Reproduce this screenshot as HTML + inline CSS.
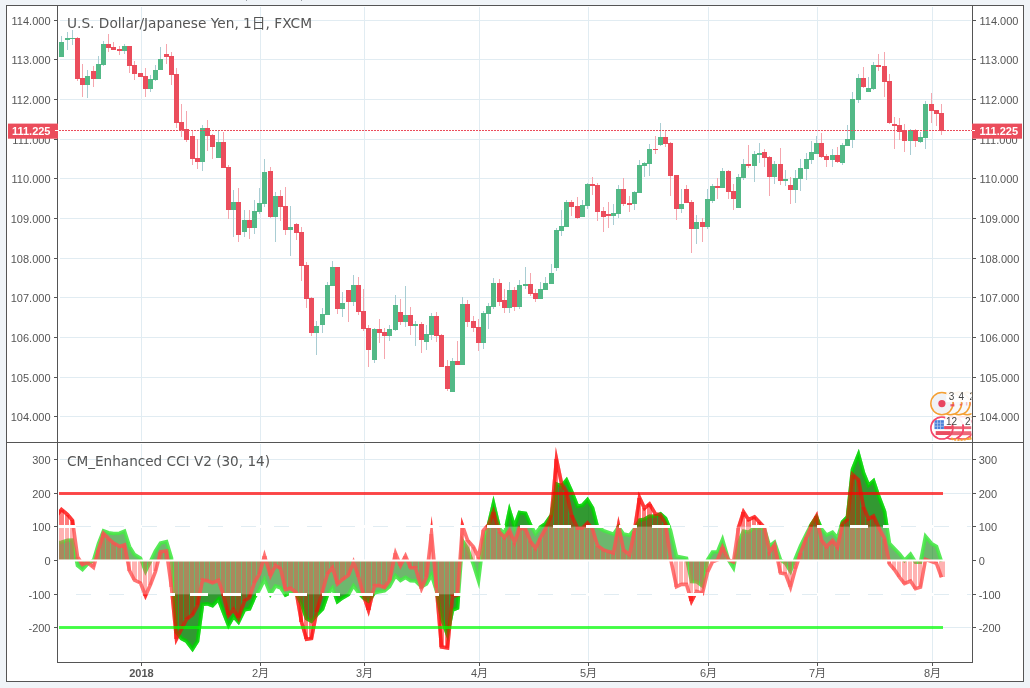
<!DOCTYPE html>
<html lang="ja"><head><meta charset="utf-8"><title>USDJPY chart</title>
<style>html,body{margin:0;padding:0;background:#f0f4f8;overflow:hidden}svg{display:block}</style></head>
<body>
<svg width="1030" height="688" viewBox="0 0 1030 688" shape-rendering="crispEdges">
<rect x="0" y="0" width="1030" height="688" fill="#f0f4f8"/>
<rect x="6" y="5" width="1018" height="677" fill="#ffffff"/>
<rect x="245.6" y="0" width="1.2" height="1" fill="#9aa0a6"/><rect x="301" y="0" width="1" height="1.3" fill="#9aa0a6"/>
<g fill="#e1ecf2"><rect x="141" y="7" width="1" height="434" /><rect x="141" y="444" width="1" height="217" /><rect x="260" y="7" width="1" height="434" /><rect x="260" y="444" width="1" height="217" /><rect x="364" y="7" width="1" height="434" /><rect x="364" y="444" width="1" height="217" /><rect x="479" y="7" width="1" height="434" /><rect x="479" y="444" width="1" height="217" /><rect x="588" y="7" width="1" height="434" /><rect x="588" y="444" width="1" height="217" /><rect x="708" y="7" width="1" height="434" /><rect x="708" y="444" width="1" height="217" /><rect x="817" y="7" width="1" height="434" /><rect x="817" y="444" width="1" height="217" /><rect x="932" y="7" width="1" height="434" /><rect x="932" y="444" width="1" height="217" /><rect x="60" y="20" width="911" height="1"/><rect x="60" y="59" width="911" height="1"/><rect x="60" y="99" width="911" height="1"/><rect x="60" y="139" width="911" height="1"/><rect x="60" y="178" width="911" height="1"/><rect x="60" y="218" width="911" height="1"/><rect x="60" y="258" width="911" height="1"/><rect x="60" y="297" width="911" height="1"/><rect x="60" y="337" width="911" height="1"/><rect x="60" y="377" width="911" height="1"/><rect x="60" y="416" width="911" height="1"/><rect x="60" y="459" width="911" height="1"/><rect x="60" y="493" width="911" height="1"/><rect x="60" y="526" width="911" height="1"/><rect x="60" y="560" width="911" height="1"/><rect x="60" y="594" width="911" height="1"/><rect x="60" y="627" width="911" height="1"/></g>
<g><rect x="61" y="36" width="1" height="6" fill="#a9cdd3"/><rect x="67" y="32" width="1" height="6" fill="#a9cdd3"/><rect x="67" y="40" width="1" height="10" fill="#a9cdd3"/><rect x="72" y="30" width="1" height="8" fill="#a9cdd3"/><rect x="72" y="39" width="1" height="6" fill="#a9cdd3"/><rect x="77" y="37" width="1" height="1" fill="#f5a6ae"/><rect x="77" y="79" width="1" height="2" fill="#f5a6ae"/><rect x="82" y="64" width="1" height="14" fill="#f5a6ae"/><rect x="82" y="85" width="1" height="12" fill="#f5a6ae"/><rect x="87" y="70" width="1" height="6" fill="#a9cdd3"/><rect x="87" y="85" width="1" height="13" fill="#a9cdd3"/><rect x="93" y="66" width="1" height="5" fill="#f5a6ae"/><rect x="93" y="79" width="1" height="8" fill="#f5a6ae"/><rect x="98" y="56" width="1" height="8" fill="#a9cdd3"/><rect x="103" y="41" width="1" height="3" fill="#a9cdd3"/><rect x="103" y="65" width="1" height="1" fill="#a9cdd3"/><rect x="108" y="34" width="1" height="10" fill="#f5a6ae"/><rect x="108" y="48" width="1" height="4" fill="#f5a6ae"/><rect x="113" y="42" width="1" height="5" fill="#f5a6ae"/><rect x="119" y="46" width="1" height="3" fill="#f5a6ae"/><rect x="119" y="51" width="1" height="4" fill="#f5a6ae"/><rect x="124" y="44" width="1" height="2" fill="#a9cdd3"/><rect x="124" y="51" width="1" height="3" fill="#a9cdd3"/><rect x="129" y="66" width="1" height="7" fill="#f5a6ae"/><rect x="134" y="61" width="1" height="4" fill="#f5a6ae"/><rect x="134" y="74" width="1" height="6" fill="#f5a6ae"/><rect x="145" y="68" width="1" height="8" fill="#f5a6ae"/><rect x="145" y="89" width="1" height="8" fill="#f5a6ae"/><rect x="150" y="75" width="1" height="4" fill="#a9cdd3"/><rect x="150" y="89" width="1" height="3" fill="#a9cdd3"/><rect x="155" y="65" width="1" height="5" fill="#a9cdd3"/><rect x="155" y="80" width="1" height="1" fill="#a9cdd3"/><rect x="160" y="47" width="1" height="12" fill="#a9cdd3"/><rect x="166" y="44" width="1" height="10" fill="#f5a6ae"/><rect x="166" y="57" width="1" height="7" fill="#f5a6ae"/><rect x="171" y="52" width="1" height="4" fill="#f5a6ae"/><rect x="171" y="75" width="1" height="10" fill="#f5a6ae"/><rect x="176" y="68" width="1" height="6" fill="#f5a6ae"/><rect x="176" y="123" width="1" height="5" fill="#f5a6ae"/><rect x="181" y="104" width="1" height="18" fill="#f5a6ae"/><rect x="181" y="130" width="1" height="7" fill="#f5a6ae"/><rect x="186" y="111" width="1" height="18" fill="#f5a6ae"/><rect x="186" y="140" width="1" height="2" fill="#f5a6ae"/><rect x="192" y="131" width="1" height="5" fill="#f5a6ae"/><rect x="192" y="159" width="1" height="6" fill="#f5a6ae"/><rect x="197" y="139" width="1" height="19" fill="#f5a6ae"/><rect x="197" y="162" width="1" height="7" fill="#f5a6ae"/><rect x="202" y="125" width="1" height="3" fill="#a9cdd3"/><rect x="202" y="162" width="1" height="9" fill="#a9cdd3"/><rect x="207" y="120" width="1" height="8" fill="#f5a6ae"/><rect x="207" y="136" width="1" height="15" fill="#f5a6ae"/><rect x="212" y="134" width="1" height="1" fill="#f5a6ae"/><rect x="212" y="147" width="1" height="12" fill="#f5a6ae"/><rect x="218" y="131" width="1" height="11" fill="#a9cdd3"/><rect x="223" y="132" width="1" height="10" fill="#f5a6ae"/><rect x="228" y="165" width="1" height="2" fill="#f5a6ae"/><rect x="228" y="210" width="1" height="9" fill="#f5a6ae"/><rect x="233" y="190" width="1" height="12" fill="#a9cdd3"/><rect x="233" y="210" width="1" height="27" fill="#a9cdd3"/><rect x="238" y="188" width="1" height="14" fill="#f5a6ae"/><rect x="238" y="235" width="1" height="7" fill="#f5a6ae"/><rect x="244" y="210" width="1" height="10" fill="#a9cdd3"/><rect x="244" y="232" width="1" height="5" fill="#a9cdd3"/><rect x="249" y="210" width="1" height="10" fill="#f5a6ae"/><rect x="249" y="228" width="1" height="11" fill="#f5a6ae"/><rect x="254" y="200" width="1" height="11" fill="#a9cdd3"/><rect x="254" y="228" width="1" height="6" fill="#a9cdd3"/><rect x="259" y="188" width="1" height="15" fill="#a9cdd3"/><rect x="259" y="212" width="1" height="2" fill="#a9cdd3"/><rect x="264" y="159" width="1" height="13" fill="#a9cdd3"/><rect x="264" y="204" width="1" height="3" fill="#a9cdd3"/><rect x="270" y="167" width="1" height="4" fill="#f5a6ae"/><rect x="270" y="217" width="1" height="1" fill="#f5a6ae"/><rect x="275" y="192" width="1" height="4" fill="#a9cdd3"/><rect x="275" y="217" width="1" height="25" fill="#a9cdd3"/><rect x="280" y="190" width="1" height="6" fill="#f5a6ae"/><rect x="280" y="207" width="1" height="14" fill="#f5a6ae"/><rect x="285" y="187" width="1" height="19" fill="#f5a6ae"/><rect x="285" y="230" width="1" height="5" fill="#f5a6ae"/><rect x="290" y="206" width="1" height="21" fill="#a9cdd3"/><rect x="290" y="230" width="1" height="26" fill="#a9cdd3"/><rect x="296" y="223" width="1" height="1" fill="#f5a6ae"/><rect x="296" y="233" width="1" height="7" fill="#f5a6ae"/><rect x="301" y="227" width="1" height="5" fill="#f5a6ae"/><rect x="301" y="266" width="1" height="15" fill="#f5a6ae"/><rect x="306" y="262" width="1" height="3" fill="#f5a6ae"/><rect x="306" y="299" width="1" height="9" fill="#f5a6ae"/><rect x="311" y="297" width="1" height="1" fill="#f5a6ae"/><rect x="311" y="333" width="1" height="3" fill="#f5a6ae"/><rect x="316" y="321" width="1" height="5" fill="#a9cdd3"/><rect x="316" y="333" width="1" height="22" fill="#a9cdd3"/><rect x="322" y="308" width="1" height="6" fill="#a9cdd3"/><rect x="322" y="325" width="1" height="8" fill="#a9cdd3"/><rect x="327" y="282" width="1" height="3" fill="#a9cdd3"/><rect x="332" y="261" width="1" height="6" fill="#a9cdd3"/><rect x="337" y="309" width="1" height="5" fill="#f5a6ae"/><rect x="342" y="292" width="1" height="11" fill="#a9cdd3"/><rect x="342" y="309" width="1" height="8" fill="#a9cdd3"/><rect x="348" y="302" width="1" height="20" fill="#f5a6ae"/><rect x="353" y="275" width="1" height="10" fill="#a9cdd3"/><rect x="353" y="302" width="1" height="4" fill="#a9cdd3"/><rect x="358" y="277" width="1" height="8" fill="#f5a6ae"/><rect x="358" y="312" width="1" height="3" fill="#f5a6ae"/><rect x="363" y="289" width="1" height="22" fill="#f5a6ae"/><rect x="363" y="329" width="1" height="2" fill="#f5a6ae"/><rect x="368" y="325" width="1" height="3" fill="#f5a6ae"/><rect x="368" y="350" width="1" height="17" fill="#f5a6ae"/><rect x="374" y="328" width="1" height="1" fill="#a9cdd3"/><rect x="374" y="360" width="1" height="3" fill="#a9cdd3"/><rect x="379" y="319" width="1" height="10" fill="#f5a6ae"/><rect x="379" y="333" width="1" height="10" fill="#f5a6ae"/><rect x="384" y="328" width="1" height="4" fill="#f5a6ae"/><rect x="384" y="336" width="1" height="23" fill="#f5a6ae"/><rect x="389" y="325" width="1" height="4" fill="#a9cdd3"/><rect x="389" y="336" width="1" height="5" fill="#a9cdd3"/><rect x="395" y="295" width="1" height="10" fill="#a9cdd3"/><rect x="395" y="330" width="1" height="1" fill="#a9cdd3"/><rect x="400" y="299" width="1" height="13" fill="#f5a6ae"/><rect x="400" y="322" width="1" height="3" fill="#f5a6ae"/><rect x="405" y="286" width="1" height="29" fill="#a9cdd3"/><rect x="405" y="322" width="1" height="5" fill="#a9cdd3"/><rect x="410" y="307" width="1" height="8" fill="#f5a6ae"/><rect x="410" y="326" width="1" height="9" fill="#f5a6ae"/><rect x="415" y="321" width="1" height="3" fill="#a9cdd3"/><rect x="415" y="326" width="1" height="20" fill="#a9cdd3"/><rect x="421" y="322" width="1" height="2" fill="#f5a6ae"/><rect x="421" y="340" width="1" height="13" fill="#f5a6ae"/><rect x="426" y="325" width="1" height="9" fill="#a9cdd3"/><rect x="426" y="342" width="1" height="8" fill="#a9cdd3"/><rect x="431" y="313" width="1" height="3" fill="#a9cdd3"/><rect x="431" y="335" width="1" height="5" fill="#a9cdd3"/><rect x="436" y="312" width="1" height="4" fill="#f5a6ae"/><rect x="436" y="336" width="1" height="6" fill="#f5a6ae"/><rect x="441" y="334" width="1" height="1" fill="#f5a6ae"/><rect x="447" y="360" width="1" height="6" fill="#f5a6ae"/><rect x="447" y="389" width="1" height="2" fill="#f5a6ae"/><rect x="452" y="358" width="1" height="3" fill="#a9cdd3"/><rect x="457" y="341" width="1" height="20" fill="#f5a6ae"/><rect x="462" y="297" width="1" height="7" fill="#a9cdd3"/><rect x="467" y="300" width="1" height="4" fill="#f5a6ae"/><rect x="467" y="322" width="1" height="5" fill="#f5a6ae"/><rect x="473" y="316" width="1" height="5" fill="#f5a6ae"/><rect x="473" y="328" width="1" height="4" fill="#f5a6ae"/><rect x="478" y="319" width="1" height="8" fill="#f5a6ae"/><rect x="478" y="343" width="1" height="8" fill="#f5a6ae"/><rect x="483" y="311" width="1" height="2" fill="#a9cdd3"/><rect x="483" y="343" width="1" height="6" fill="#a9cdd3"/><rect x="488" y="303" width="1" height="3" fill="#a9cdd3"/><rect x="488" y="314" width="1" height="15" fill="#a9cdd3"/><rect x="493" y="278" width="1" height="5" fill="#a9cdd3"/><rect x="493" y="307" width="1" height="2" fill="#a9cdd3"/><rect x="499" y="279" width="1" height="4" fill="#f5a6ae"/><rect x="499" y="302" width="1" height="4" fill="#f5a6ae"/><rect x="504" y="289" width="1" height="11" fill="#f5a6ae"/><rect x="504" y="308" width="1" height="5" fill="#f5a6ae"/><rect x="509" y="282" width="1" height="8" fill="#a9cdd3"/><rect x="509" y="308" width="1" height="5" fill="#a9cdd3"/><rect x="514" y="287" width="1" height="3" fill="#f5a6ae"/><rect x="514" y="307" width="1" height="4" fill="#f5a6ae"/><rect x="519" y="280" width="1" height="5" fill="#a9cdd3"/><rect x="519" y="307" width="1" height="2" fill="#a9cdd3"/><rect x="525" y="267" width="1" height="17" fill="#a9cdd3"/><rect x="525" y="286" width="1" height="3" fill="#a9cdd3"/><rect x="530" y="273" width="1" height="11" fill="#f5a6ae"/><rect x="530" y="294" width="1" height="2" fill="#f5a6ae"/><rect x="535" y="289" width="1" height="4" fill="#f5a6ae"/><rect x="535" y="299" width="1" height="3" fill="#f5a6ae"/><rect x="540" y="282" width="1" height="7" fill="#a9cdd3"/><rect x="545" y="277" width="1" height="6" fill="#a9cdd3"/><rect x="551" y="264" width="1" height="9" fill="#a9cdd3"/><rect x="556" y="228" width="1" height="2" fill="#a9cdd3"/><rect x="556" y="268" width="1" height="3" fill="#a9cdd3"/><rect x="561" y="210" width="1" height="16" fill="#a9cdd3"/><rect x="561" y="231" width="1" height="5" fill="#a9cdd3"/><rect x="566" y="200" width="1" height="2" fill="#a9cdd3"/><rect x="571" y="200" width="1" height="2" fill="#f5a6ae"/><rect x="571" y="207" width="1" height="9" fill="#f5a6ae"/><rect x="577" y="197" width="1" height="9" fill="#f5a6ae"/><rect x="577" y="218" width="1" height="1" fill="#f5a6ae"/><rect x="582" y="200" width="1" height="5" fill="#a9cdd3"/><rect x="587" y="183" width="1" height="1" fill="#a9cdd3"/><rect x="587" y="206" width="1" height="3" fill="#a9cdd3"/><rect x="592" y="177" width="1" height="7" fill="#f5a6ae"/><rect x="592" y="186" width="1" height="9" fill="#f5a6ae"/><rect x="597" y="183" width="1" height="2" fill="#f5a6ae"/><rect x="597" y="212" width="1" height="9" fill="#f5a6ae"/><rect x="603" y="207" width="1" height="4" fill="#f5a6ae"/><rect x="603" y="217" width="1" height="15" fill="#f5a6ae"/><rect x="608" y="202" width="1" height="12" fill="#f5a6ae"/><rect x="608" y="216" width="1" height="12" fill="#f5a6ae"/><rect x="613" y="204" width="1" height="9" fill="#a9cdd3"/><rect x="613" y="216" width="1" height="9" fill="#a9cdd3"/><rect x="618" y="185" width="1" height="4" fill="#a9cdd3"/><rect x="618" y="214" width="1" height="4" fill="#a9cdd3"/><rect x="623" y="178" width="1" height="11" fill="#f5a6ae"/><rect x="623" y="204" width="1" height="2" fill="#f5a6ae"/><rect x="629" y="196" width="1" height="7" fill="#f5a6ae"/><rect x="629" y="205" width="1" height="7" fill="#f5a6ae"/><rect x="634" y="191" width="1" height="1" fill="#a9cdd3"/><rect x="634" y="204" width="1" height="6" fill="#a9cdd3"/><rect x="639" y="160" width="1" height="5" fill="#a9cdd3"/><rect x="644" y="162" width="1" height="1" fill="#a9cdd3"/><rect x="644" y="166" width="1" height="11" fill="#a9cdd3"/><rect x="649" y="144" width="1" height="5" fill="#a9cdd3"/><rect x="649" y="164" width="1" height="12" fill="#a9cdd3"/><rect x="655" y="136" width="1" height="13" fill="#f5a6ae"/><rect x="655" y="150" width="1" height="4" fill="#f5a6ae"/><rect x="660" y="123" width="1" height="14" fill="#a9cdd3"/><rect x="660" y="145" width="1" height="1" fill="#a9cdd3"/><rect x="665" y="131" width="1" height="6" fill="#f5a6ae"/><rect x="665" y="144" width="1" height="3" fill="#f5a6ae"/><rect x="670" y="142" width="1" height="1" fill="#f5a6ae"/><rect x="670" y="176" width="1" height="20" fill="#f5a6ae"/><rect x="676" y="209" width="1" height="11" fill="#f5a6ae"/><rect x="681" y="189" width="1" height="15" fill="#a9cdd3"/><rect x="681" y="209" width="1" height="4" fill="#a9cdd3"/><rect x="686" y="185" width="1" height="4" fill="#f5a6ae"/><rect x="691" y="200" width="1" height="2" fill="#f5a6ae"/><rect x="691" y="229" width="1" height="24" fill="#f5a6ae"/><rect x="696" y="215" width="1" height="7" fill="#a9cdd3"/><rect x="696" y="229" width="1" height="15" fill="#a9cdd3"/><rect x="702" y="218" width="1" height="4" fill="#f5a6ae"/><rect x="702" y="227" width="1" height="15" fill="#f5a6ae"/><rect x="707" y="189" width="1" height="10" fill="#a9cdd3"/><rect x="707" y="227" width="1" height="2" fill="#a9cdd3"/><rect x="712" y="184" width="1" height="2" fill="#a9cdd3"/><rect x="712" y="201" width="1" height="2" fill="#a9cdd3"/><rect x="717" y="178" width="1" height="8" fill="#f5a6ae"/><rect x="717" y="188" width="1" height="11" fill="#f5a6ae"/><rect x="722" y="168" width="1" height="3" fill="#a9cdd3"/><rect x="728" y="170" width="1" height="1" fill="#f5a6ae"/><rect x="728" y="192" width="1" height="7" fill="#f5a6ae"/><rect x="733" y="184" width="1" height="7" fill="#f5a6ae"/><rect x="733" y="199" width="1" height="11" fill="#f5a6ae"/><rect x="738" y="174" width="1" height="3" fill="#a9cdd3"/><rect x="743" y="159" width="1" height="5" fill="#a9cdd3"/><rect x="743" y="178" width="1" height="2" fill="#a9cdd3"/><rect x="748" y="145" width="1" height="19" fill="#f5a6ae"/><rect x="748" y="166" width="1" height="2" fill="#f5a6ae"/><rect x="754" y="151" width="1" height="3" fill="#a9cdd3"/><rect x="754" y="166" width="1" height="16" fill="#a9cdd3"/><rect x="759" y="143" width="1" height="10" fill="#a9cdd3"/><rect x="759" y="155" width="1" height="8" fill="#a9cdd3"/><rect x="764" y="149" width="1" height="3" fill="#f5a6ae"/><rect x="764" y="158" width="1" height="9" fill="#f5a6ae"/><rect x="769" y="156" width="1" height="1" fill="#f5a6ae"/><rect x="769" y="177" width="1" height="19" fill="#f5a6ae"/><rect x="774" y="161" width="1" height="3" fill="#a9cdd3"/><rect x="774" y="177" width="1" height="7" fill="#a9cdd3"/><rect x="780" y="148" width="1" height="16" fill="#f5a6ae"/><rect x="780" y="181" width="1" height="4" fill="#f5a6ae"/><rect x="785" y="170" width="1" height="9" fill="#a9cdd3"/><rect x="785" y="181" width="1" height="5" fill="#a9cdd3"/><rect x="790" y="177" width="1" height="8" fill="#f5a6ae"/><rect x="790" y="190" width="1" height="14" fill="#f5a6ae"/><rect x="795" y="170" width="1" height="8" fill="#a9cdd3"/><rect x="795" y="190" width="1" height="13" fill="#a9cdd3"/><rect x="800" y="159" width="1" height="9" fill="#a9cdd3"/><rect x="800" y="179" width="1" height="12" fill="#a9cdd3"/><rect x="806" y="153" width="1" height="6" fill="#a9cdd3"/><rect x="806" y="169" width="1" height="11" fill="#a9cdd3"/><rect x="811" y="141" width="1" height="11" fill="#a9cdd3"/><rect x="811" y="160" width="1" height="4" fill="#a9cdd3"/><rect x="816" y="136" width="1" height="7" fill="#a9cdd3"/><rect x="821" y="133" width="1" height="10" fill="#f5a6ae"/><rect x="821" y="157" width="1" height="1" fill="#f5a6ae"/><rect x="826" y="154" width="1" height="2" fill="#f5a6ae"/><rect x="826" y="160" width="1" height="7" fill="#f5a6ae"/><rect x="832" y="149" width="1" height="6" fill="#a9cdd3"/><rect x="832" y="160" width="1" height="7" fill="#a9cdd3"/><rect x="837" y="147" width="1" height="8" fill="#f5a6ae"/><rect x="837" y="162" width="1" height="1" fill="#f5a6ae"/><rect x="842" y="143" width="1" height="2" fill="#a9cdd3"/><rect x="842" y="163" width="1" height="2" fill="#a9cdd3"/><rect x="847" y="125" width="1" height="14" fill="#a9cdd3"/><rect x="852" y="92" width="1" height="7" fill="#a9cdd3"/><rect x="852" y="140" width="1" height="8" fill="#a9cdd3"/><rect x="858" y="74" width="1" height="4" fill="#a9cdd3"/><rect x="858" y="100" width="1" height="3" fill="#a9cdd3"/><rect x="863" y="67" width="1" height="11" fill="#f5a6ae"/><rect x="863" y="87" width="1" height="1" fill="#f5a6ae"/><rect x="868" y="77" width="1" height="11" fill="#a9cdd3"/><rect x="873" y="62" width="1" height="3" fill="#a9cdd3"/><rect x="873" y="89" width="1" height="1" fill="#a9cdd3"/><rect x="878" y="54" width="1" height="11" fill="#f5a6ae"/><rect x="878" y="67" width="1" height="4" fill="#f5a6ae"/><rect x="884" y="52" width="1" height="14" fill="#f5a6ae"/><rect x="884" y="82" width="1" height="15" fill="#f5a6ae"/><rect x="889" y="74" width="1" height="7" fill="#f5a6ae"/><rect x="889" y="123" width="1" height="1" fill="#f5a6ae"/><rect x="894" y="117" width="1" height="7" fill="#f5a6ae"/><rect x="894" y="126" width="1" height="23" fill="#f5a6ae"/><rect x="899" y="118" width="1" height="7" fill="#f5a6ae"/><rect x="899" y="132" width="1" height="8" fill="#f5a6ae"/><rect x="904" y="124" width="1" height="6" fill="#f5a6ae"/><rect x="904" y="141" width="1" height="11" fill="#f5a6ae"/><rect x="910" y="129" width="1" height="1" fill="#a9cdd3"/><rect x="910" y="141" width="1" height="14" fill="#a9cdd3"/><rect x="915" y="129" width="1" height="1" fill="#f5a6ae"/><rect x="915" y="141" width="1" height="6" fill="#f5a6ae"/><rect x="920" y="132" width="1" height="5" fill="#a9cdd3"/><rect x="920" y="142" width="1" height="1" fill="#a9cdd3"/><rect x="925" y="101" width="1" height="3" fill="#a9cdd3"/><rect x="925" y="138" width="1" height="11" fill="#a9cdd3"/><rect x="931" y="93" width="1" height="11" fill="#f5a6ae"/><rect x="931" y="111" width="1" height="12" fill="#f5a6ae"/><rect x="936" y="114" width="1" height="12" fill="#f5a6ae"/><rect x="941" y="104" width="1" height="9" fill="#f5a6ae"/><rect x="941" y="131" width="1" height="4" fill="#f5a6ae"/><rect x="59" y="42" width="5" height="15" fill="#53b987"/><rect x="65" y="38" width="5" height="2" fill="#53b987"/><rect x="70" y="38" width="5" height="1" fill="#53b987"/><rect x="75" y="38" width="5" height="41" fill="#eb4d5c"/><rect x="80" y="78" width="5" height="7" fill="#eb4d5c"/><rect x="85" y="76" width="5" height="9" fill="#53b987"/><rect x="91" y="71" width="5" height="8" fill="#eb4d5c"/><rect x="96" y="64" width="5" height="15" fill="#53b987"/><rect x="101" y="44" width="5" height="21" fill="#53b987"/><rect x="106" y="44" width="5" height="4" fill="#eb4d5c"/><rect x="111" y="47" width="5" height="3" fill="#eb4d5c"/><rect x="117" y="49" width="5" height="2" fill="#eb4d5c"/><rect x="122" y="46" width="5" height="5" fill="#53b987"/><rect x="127" y="46" width="5" height="20" fill="#eb4d5c"/><rect x="132" y="65" width="5" height="9" fill="#eb4d5c"/><rect x="138" y="73" width="5" height="4" fill="#eb4d5c"/><rect x="143" y="76" width="5" height="13" fill="#eb4d5c"/><rect x="148" y="79" width="5" height="10" fill="#53b987"/><rect x="153" y="70" width="5" height="10" fill="#53b987"/><rect x="158" y="59" width="5" height="11" fill="#53b987"/><rect x="164" y="54" width="5" height="3" fill="#eb4d5c"/><rect x="169" y="56" width="5" height="19" fill="#eb4d5c"/><rect x="174" y="74" width="5" height="49" fill="#eb4d5c"/><rect x="179" y="122" width="5" height="8" fill="#eb4d5c"/><rect x="184" y="129" width="5" height="11" fill="#eb4d5c"/><rect x="190" y="136" width="5" height="23" fill="#eb4d5c"/><rect x="195" y="158" width="5" height="4" fill="#eb4d5c"/><rect x="200" y="128" width="5" height="34" fill="#53b987"/><rect x="205" y="128" width="5" height="8" fill="#eb4d5c"/><rect x="210" y="135" width="5" height="12" fill="#eb4d5c"/><rect x="216" y="142" width="5" height="16" fill="#53b987"/><rect x="221" y="142" width="5" height="26" fill="#eb4d5c"/><rect x="226" y="167" width="5" height="43" fill="#eb4d5c"/><rect x="231" y="202" width="5" height="8" fill="#53b987"/><rect x="236" y="202" width="5" height="33" fill="#eb4d5c"/><rect x="242" y="220" width="5" height="12" fill="#53b987"/><rect x="247" y="220" width="5" height="8" fill="#eb4d5c"/><rect x="252" y="211" width="5" height="17" fill="#53b987"/><rect x="257" y="203" width="5" height="9" fill="#53b987"/><rect x="262" y="172" width="5" height="32" fill="#53b987"/><rect x="268" y="171" width="5" height="46" fill="#eb4d5c"/><rect x="273" y="196" width="5" height="21" fill="#53b987"/><rect x="278" y="196" width="5" height="11" fill="#eb4d5c"/><rect x="283" y="206" width="5" height="24" fill="#eb4d5c"/><rect x="288" y="227" width="5" height="3" fill="#53b987"/><rect x="294" y="224" width="5" height="9" fill="#eb4d5c"/><rect x="299" y="232" width="5" height="34" fill="#eb4d5c"/><rect x="304" y="265" width="5" height="34" fill="#eb4d5c"/><rect x="309" y="298" width="5" height="35" fill="#eb4d5c"/><rect x="314" y="326" width="5" height="7" fill="#53b987"/><rect x="320" y="314" width="5" height="11" fill="#53b987"/><rect x="325" y="285" width="5" height="30" fill="#53b987"/><rect x="330" y="267" width="5" height="19" fill="#53b987"/><rect x="335" y="267" width="5" height="42" fill="#eb4d5c"/><rect x="340" y="303" width="5" height="6" fill="#53b987"/><rect x="346" y="290" width="5" height="12" fill="#eb4d5c"/><rect x="351" y="285" width="5" height="17" fill="#53b987"/><rect x="356" y="285" width="5" height="27" fill="#eb4d5c"/><rect x="361" y="311" width="5" height="18" fill="#eb4d5c"/><rect x="366" y="328" width="5" height="22" fill="#eb4d5c"/><rect x="372" y="329" width="5" height="31" fill="#53b987"/><rect x="377" y="329" width="5" height="4" fill="#eb4d5c"/><rect x="382" y="332" width="5" height="4" fill="#eb4d5c"/><rect x="387" y="329" width="5" height="7" fill="#53b987"/><rect x="393" y="305" width="5" height="25" fill="#53b987"/><rect x="398" y="312" width="5" height="10" fill="#eb4d5c"/><rect x="403" y="315" width="5" height="7" fill="#53b987"/><rect x="408" y="315" width="5" height="11" fill="#eb4d5c"/><rect x="413" y="324" width="5" height="2" fill="#53b987"/><rect x="419" y="324" width="5" height="16" fill="#eb4d5c"/><rect x="424" y="334" width="5" height="8" fill="#53b987"/><rect x="429" y="316" width="5" height="19" fill="#53b987"/><rect x="434" y="316" width="5" height="20" fill="#eb4d5c"/><rect x="439" y="335" width="5" height="32" fill="#eb4d5c"/><rect x="445" y="366" width="5" height="23" fill="#eb4d5c"/><rect x="450" y="361" width="5" height="31" fill="#53b987"/><rect x="455" y="361" width="5" height="4" fill="#eb4d5c"/><rect x="460" y="304" width="5" height="61" fill="#53b987"/><rect x="465" y="304" width="5" height="18" fill="#eb4d5c"/><rect x="471" y="321" width="5" height="7" fill="#eb4d5c"/><rect x="476" y="327" width="5" height="16" fill="#eb4d5c"/><rect x="481" y="313" width="5" height="30" fill="#53b987"/><rect x="486" y="306" width="5" height="8" fill="#53b987"/><rect x="491" y="283" width="5" height="24" fill="#53b987"/><rect x="497" y="283" width="5" height="19" fill="#eb4d5c"/><rect x="502" y="300" width="5" height="8" fill="#eb4d5c"/><rect x="507" y="290" width="5" height="18" fill="#53b987"/><rect x="512" y="290" width="5" height="17" fill="#eb4d5c"/><rect x="517" y="285" width="5" height="22" fill="#53b987"/><rect x="523" y="284" width="5" height="2" fill="#53b987"/><rect x="528" y="284" width="5" height="10" fill="#eb4d5c"/><rect x="533" y="293" width="5" height="6" fill="#eb4d5c"/><rect x="538" y="289" width="5" height="10" fill="#53b987"/><rect x="543" y="283" width="5" height="7" fill="#53b987"/><rect x="549" y="273" width="5" height="11" fill="#53b987"/><rect x="554" y="230" width="5" height="38" fill="#53b987"/><rect x="559" y="226" width="5" height="5" fill="#53b987"/><rect x="564" y="202" width="5" height="25" fill="#53b987"/><rect x="569" y="202" width="5" height="5" fill="#eb4d5c"/><rect x="575" y="206" width="5" height="12" fill="#eb4d5c"/><rect x="580" y="205" width="5" height="12" fill="#53b987"/><rect x="585" y="184" width="5" height="22" fill="#53b987"/><rect x="590" y="184" width="5" height="2" fill="#eb4d5c"/><rect x="595" y="185" width="5" height="27" fill="#eb4d5c"/><rect x="601" y="211" width="5" height="6" fill="#eb4d5c"/><rect x="606" y="214" width="5" height="2" fill="#eb4d5c"/><rect x="611" y="213" width="5" height="3" fill="#53b987"/><rect x="616" y="189" width="5" height="25" fill="#53b987"/><rect x="621" y="189" width="5" height="15" fill="#eb4d5c"/><rect x="627" y="203" width="5" height="2" fill="#eb4d5c"/><rect x="632" y="192" width="5" height="12" fill="#53b987"/><rect x="637" y="165" width="5" height="28" fill="#53b987"/><rect x="642" y="163" width="5" height="3" fill="#53b987"/><rect x="647" y="149" width="5" height="15" fill="#53b987"/><rect x="653" y="149" width="5" height="1" fill="#eb4d5c"/><rect x="658" y="137" width="5" height="8" fill="#53b987"/><rect x="663" y="137" width="5" height="7" fill="#eb4d5c"/><rect x="668" y="143" width="5" height="33" fill="#eb4d5c"/><rect x="674" y="175" width="5" height="34" fill="#eb4d5c"/><rect x="679" y="204" width="5" height="5" fill="#53b987"/><rect x="684" y="189" width="5" height="14" fill="#eb4d5c"/><rect x="689" y="202" width="5" height="27" fill="#eb4d5c"/><rect x="694" y="222" width="5" height="7" fill="#53b987"/><rect x="700" y="222" width="5" height="5" fill="#eb4d5c"/><rect x="705" y="199" width="5" height="28" fill="#53b987"/><rect x="710" y="186" width="5" height="15" fill="#53b987"/><rect x="715" y="186" width="5" height="2" fill="#eb4d5c"/><rect x="720" y="171" width="5" height="17" fill="#53b987"/><rect x="726" y="171" width="5" height="21" fill="#eb4d5c"/><rect x="731" y="191" width="5" height="8" fill="#eb4d5c"/><rect x="736" y="177" width="5" height="31" fill="#53b987"/><rect x="741" y="164" width="5" height="14" fill="#53b987"/><rect x="746" y="164" width="5" height="2" fill="#eb4d5c"/><rect x="752" y="154" width="5" height="12" fill="#53b987"/><rect x="757" y="153" width="5" height="2" fill="#53b987"/><rect x="762" y="152" width="5" height="6" fill="#eb4d5c"/><rect x="767" y="157" width="5" height="20" fill="#eb4d5c"/><rect x="772" y="164" width="5" height="13" fill="#53b987"/><rect x="778" y="164" width="5" height="17" fill="#eb4d5c"/><rect x="783" y="179" width="5" height="2" fill="#53b987"/><rect x="788" y="185" width="5" height="5" fill="#eb4d5c"/><rect x="793" y="178" width="5" height="12" fill="#53b987"/><rect x="798" y="168" width="5" height="11" fill="#53b987"/><rect x="804" y="159" width="5" height="10" fill="#53b987"/><rect x="809" y="152" width="5" height="8" fill="#53b987"/><rect x="814" y="143" width="5" height="11" fill="#53b987"/><rect x="819" y="143" width="5" height="14" fill="#eb4d5c"/><rect x="824" y="156" width="5" height="4" fill="#eb4d5c"/><rect x="830" y="155" width="5" height="5" fill="#53b987"/><rect x="835" y="155" width="5" height="7" fill="#eb4d5c"/><rect x="840" y="145" width="5" height="18" fill="#53b987"/><rect x="845" y="139" width="5" height="7" fill="#53b987"/><rect x="850" y="99" width="5" height="41" fill="#53b987"/><rect x="856" y="78" width="5" height="22" fill="#53b987"/><rect x="861" y="78" width="5" height="9" fill="#eb4d5c"/><rect x="866" y="88" width="5" height="4" fill="#53b987"/><rect x="871" y="65" width="5" height="24" fill="#53b987"/><rect x="876" y="65" width="5" height="2" fill="#eb4d5c"/><rect x="882" y="66" width="5" height="16" fill="#eb4d5c"/><rect x="887" y="81" width="5" height="42" fill="#eb4d5c"/><rect x="892" y="124" width="5" height="2" fill="#eb4d5c"/><rect x="897" y="125" width="5" height="7" fill="#eb4d5c"/><rect x="902" y="130" width="5" height="11" fill="#eb4d5c"/><rect x="908" y="130" width="5" height="11" fill="#53b987"/><rect x="913" y="130" width="5" height="11" fill="#eb4d5c"/><rect x="918" y="137" width="5" height="5" fill="#53b987"/><rect x="923" y="104" width="5" height="34" fill="#53b987"/><rect x="929" y="104" width="5" height="7" fill="#eb4d5c"/><rect x="934" y="110" width="5" height="4" fill="#eb4d5c"/><rect x="939" y="113" width="5" height="18" fill="#eb4d5c"/></g>
<line x1="59" y1="130.5" x2="972" y2="130.5" stroke="#eb4d5c" stroke-width="1" stroke-dasharray="2 1" shape-rendering="crispEdges"/>
<defs>
<clipPath id="beyond"><rect x="58" y="443" width="914" height="83.5"/><rect x="58" y="594.5" width="914" height="67.5"/></clipPath>
<clipPath id="pane2"><rect x="59" y="443" width="913" height="219"/></clipPath>
<clipPath id="usc"><circle cx="941.9" cy="428" r="10.6"/></clipPath>
<clipPath id="icl"><rect x="925" y="385" width="46.5" height="56"/></clipPath>
</defs>
<g clip-path="url(#pane2)" shape-rendering="auto">
<path d="M56.3,560.5 L56.3,543.0 L61.5,542.2 L67.5,540.3 L72.5,540.2 L77.5,565.5 L82.5,569.6 L87.5,564.1 L93.5,560.4 L98.5,543.7 L103.5,530.9 L108.5,532.8 L113.5,533.5 L119.5,533.2 L124.5,531.1 L129.5,546.6 L134.5,554.6 L140.5,558.2 L145.5,571.3 L150.5,561.2 L155.5,551.0 L160.5,543.0 L166.5,541.7 L171.5,558.2 L176.5,632.4 L181.5,638.5 L186.5,641.1 L192.5,649.0 L197.5,641.1 L202.5,604.4 L207.5,603.8 L212.5,605.6 L218.5,599.3 L223.5,612.3 L228.5,625.3 L233.5,616.4 L238.5,622.0 L244.5,609.7 L249.5,608.8 L254.5,597.4 L259.5,589.6 L264.5,579.4 L270.5,594.1 L275.5,586.0 L280.5,587.8 L285.5,594.9 L290.5,592.6 L296.5,593.9 L301.5,604.4 L306.5,618.4 L311.5,621.1 L316.5,615.1 L322.5,609.0 L327.5,594.6 L332.5,587.9 L337.5,601.6 L342.5,597.9 L348.5,594.4 L353.5,585.7 L358.5,592.6 L363.5,597.9 L368.5,601.2 L374.5,592.6 L379.5,591.8 L384.5,590.9 L389.5,586.5 L395.5,575.7 L400.5,580.5 L405.5,577.5 L410.5,580.8 L415.5,581.0 L421.5,586.7 L426.5,583.9 L431.5,574.8 L436.5,591.0 L441.5,618.0 L447.5,634.8 L452.5,610.0 L457.5,608.0 L462.5,540.6 L467.5,548.3 L473.5,564.6 L478.5,580.8 L483.5,540.1 L488.5,525.0 L493.5,503.4 L499.5,528.4 L504.5,534.1 L509.5,510.5 L514.5,526.7 L519.5,512.4 L525.5,513.3 L530.5,525.0 L535.5,533.7 L540.5,527.1 L545.5,523.6 L551.5,514.9 L556.5,484.0 L561.5,486.2 L566.5,480.1 L571.5,491.3 L577.5,506.2 L582.5,505.3 L587.5,499.8 L592.5,507.9 L597.5,527.1 L603.5,530.6 L608.5,532.4 L613.5,534.2 L618.5,527.0 L623.5,534.1 L629.5,535.3 L634.5,528.9 L639.5,520.1 L644.5,519.3 L649.5,516.2 L655.5,516.3 L660.5,513.9 L665.5,518.4 L670.5,530.2 L676.5,556.4 L681.5,557.2 L686.5,558.2 L691.5,581.4 L696.5,581.6 L702.5,586.0 L707.5,559.9 L712.5,552.0 L717.5,551.8 L722.5,539.4 L728.5,559.9 L733.5,567.9 L738.5,542.4 L743.5,531.1 L748.5,532.3 L754.5,527.6 L759.5,527.6 L764.5,529.3 L769.5,546.1 L774.5,542.2 L780.5,559.9 L785.5,563.4 L790.5,571.4 L795.5,558.2 L800.5,545.9 L806.5,533.7 L811.5,524.1 L816.5,517.1 L821.5,528.9 L826.5,535.1 L832.5,532.3 L837.5,538.0 L842.5,521.9 L847.5,516.7 L852.5,469.5 L858.5,454.4 L863.5,473.0 L868.5,485.3 L873.5,480.8 L878.5,495.7 L884.5,511.4 L889.5,543.5 L894.5,548.7 L899.5,554.0 L904.5,560.4 L910.5,554.2 L915.5,562.1 L920.5,562.1 L925.5,536.3 L931.5,543.5 L936.5,546.4 L941.5,561.6 L941.5,560.5 Z" fill="rgba(0,128,0,0.57)"/><path d="M56.3,543.0 L61.5,542.2 L67.5,540.3 L72.5,540.2 L77.5,565.5 L82.5,569.6 L87.5,564.1 L93.5,560.4 L98.5,543.7 L103.5,530.9 L108.5,532.8 L113.5,533.5 L119.5,533.2 L124.5,531.1 L129.5,546.6 L134.5,554.6 L140.5,558.2 L145.5,571.3 L150.5,561.2 L155.5,551.0 L160.5,543.0 L166.5,541.7 L171.5,558.2 L176.5,632.4 L181.5,638.5 L186.5,641.1 L192.5,649.0 L197.5,641.1 L202.5,604.4 L207.5,603.8 L212.5,605.6 L218.5,599.3 L223.5,612.3 L228.5,625.3 L233.5,616.4 L238.5,622.0 L244.5,609.7 L249.5,608.8 L254.5,597.4 L259.5,589.6 L264.5,579.4 L270.5,594.1 L275.5,586.0 L280.5,587.8 L285.5,594.9 L290.5,592.6 L296.5,593.9 L301.5,604.4 L306.5,618.4 L311.5,621.1 L316.5,615.1 L322.5,609.0 L327.5,594.6 L332.5,587.9 L337.5,601.6 L342.5,597.9 L348.5,594.4 L353.5,585.7 L358.5,592.6 L363.5,597.9 L368.5,601.2 L374.5,592.6 L379.5,591.8 L384.5,590.9 L389.5,586.5 L395.5,575.7 L400.5,580.5 L405.5,577.5 L410.5,580.8 L415.5,581.0 L421.5,586.7 L426.5,583.9 L431.5,574.8 L436.5,591.0 L441.5,618.0 L447.5,634.8 L452.5,610.0 L457.5,608.0 L462.5,540.6 L467.5,548.3 L473.5,564.6 L478.5,580.8 L483.5,540.1 L488.5,525.0 L493.5,503.4 L499.5,528.4 L504.5,534.1 L509.5,510.5 L514.5,526.7 L519.5,512.4 L525.5,513.3 L530.5,525.0 L535.5,533.7 L540.5,527.1 L545.5,523.6 L551.5,514.9 L556.5,484.0 L561.5,486.2 L566.5,480.1 L571.5,491.3 L577.5,506.2 L582.5,505.3 L587.5,499.8 L592.5,507.9 L597.5,527.1 L603.5,530.6 L608.5,532.4 L613.5,534.2 L618.5,527.0 L623.5,534.1 L629.5,535.3 L634.5,528.9 L639.5,520.1 L644.5,519.3 L649.5,516.2 L655.5,516.3 L660.5,513.9 L665.5,518.4 L670.5,530.2 L676.5,556.4 L681.5,557.2 L686.5,558.2 L691.5,581.4 L696.5,581.6 L702.5,586.0 L707.5,559.9 L712.5,552.0 L717.5,551.8 L722.5,539.4 L728.5,559.9 L733.5,567.9 L738.5,542.4 L743.5,531.1 L748.5,532.3 L754.5,527.6 L759.5,527.6 L764.5,529.3 L769.5,546.1 L774.5,542.2 L780.5,559.9 L785.5,563.4 L790.5,571.4 L795.5,558.2 L800.5,545.9 L806.5,533.7 L811.5,524.1 L816.5,517.1 L821.5,528.9 L826.5,535.1 L832.5,532.3 L837.5,538.0 L842.5,521.9 L847.5,516.7 L852.5,469.5 L858.5,454.4 L863.5,473.0 L868.5,485.3 L873.5,480.8 L878.5,495.7 L884.5,511.4 L889.5,543.5 L894.5,548.7 L899.5,554.0 L904.5,560.4 L910.5,554.2 L915.5,562.1 L920.5,562.1 L925.5,536.3 L931.5,543.5 L936.5,546.4 L941.5,561.6" fill="none" stroke="rgba(70,232,70,0.9)" stroke-width="3.6" stroke-linejoin="miter" stroke-miterlimit="40"/><g fill="rgba(255,69,69,0.414)" shape-rendering="crispEdges"><rect x="54" y="516.0" width="4" height="44.5"/><rect x="59" y="509.5" width="5" height="51.0"/><rect x="65" y="514.6" width="4" height="45.9"/><rect x="70" y="520.4" width="4" height="40.1"/><rect x="75" y="556.8" width="4" height="3.7"/><rect x="80" y="560.5" width="4" height="4.1"/><rect x="85" y="560.5" width="5" height="2.0"/><rect x="91" y="560.5" width="4" height="6.9"/><rect x="96" y="549.5" width="4" height="11.0"/><rect x="101" y="533.4" width="4" height="27.1"/><rect x="106" y="538.6" width="4" height="21.9"/><rect x="111" y="543.0" width="5" height="17.5"/><rect x="117" y="546.4" width="4" height="14.1"/><rect x="122" y="544.9" width="4" height="15.6"/><rect x="127" y="560.5" width="4" height="10.1"/><rect x="132" y="560.5" width="5" height="19.6"/><rect x="138" y="560.5" width="4" height="22.5"/><rect x="143" y="560.5" width="4" height="35.1"/><rect x="148" y="560.5" width="4" height="24.0"/><rect x="153" y="560.5" width="4" height="10.9"/><rect x="158" y="551.8" width="5" height="8.7"/><rect x="164" y="551.0" width="4" height="9.5"/><rect x="169" y="560.5" width="4" height="26.9"/><rect x="174" y="560.5" width="4" height="78.3"/><rect x="179" y="560.5" width="4" height="68.4"/><rect x="184" y="560.5" width="5" height="58.8"/><rect x="190" y="560.5" width="4" height="54.4"/><rect x="195" y="560.5" width="4" height="44.8"/><rect x="200" y="560.5" width="4" height="19.6"/><rect x="205" y="560.5" width="4" height="20.3"/><rect x="210" y="560.5" width="5" height="22.4"/><rect x="216" y="560.5" width="4" height="19.8"/><rect x="221" y="560.5" width="4" height="35.2"/><rect x="226" y="560.5" width="4" height="54.8"/><rect x="231" y="560.5" width="4" height="48.9"/><rect x="236" y="560.5" width="5" height="57.8"/><rect x="242" y="560.5" width="4" height="40.4"/><rect x="247" y="560.5" width="4" height="36.9"/><rect x="252" y="560.5" width="4" height="22.1"/><rect x="257" y="560.5" width="4" height="13.3"/><rect x="262" y="556.0" width="5" height="4.5"/><rect x="268" y="560.5" width="4" height="15.2"/><rect x="273" y="560.5" width="4" height="4.9"/><rect x="278" y="560.5" width="4" height="8.1"/><rect x="283" y="560.5" width="4" height="28.9"/><rect x="288" y="560.5" width="5" height="27.8"/><rect x="294" y="560.5" width="4" height="32.6"/><rect x="299" y="560.5" width="4" height="61.4"/><rect x="304" y="560.5" width="4" height="78.8"/><rect x="309" y="560.5" width="4" height="78.0"/><rect x="314" y="560.5" width="5" height="51.6"/><rect x="320" y="560.5" width="4" height="31.0"/><rect x="325" y="560.5" width="4" height="13.1"/><rect x="330" y="560.5" width="4" height="7.2"/><rect x="335" y="560.5" width="4" height="23.3"/><rect x="340" y="560.5" width="5" height="19.0"/><rect x="346" y="560.5" width="4" height="14.6"/><rect x="351" y="560.5" width="4" height="1.7"/><rect x="356" y="560.5" width="4" height="16.4"/><rect x="361" y="560.5" width="4" height="34.7"/><rect x="366" y="560.5" width="5" height="49.8"/><rect x="372" y="560.5" width="4" height="25.1"/><rect x="377" y="560.5" width="4" height="25.1"/><rect x="382" y="560.5" width="4" height="27.0"/><rect x="387" y="560.5" width="5" height="19.9"/><rect x="393" y="553.2" width="4" height="7.3"/><rect x="398" y="560.5" width="4" height="5.1"/><rect x="403" y="555.9" width="4" height="4.6"/><rect x="408" y="560.5" width="4" height="7.2"/><rect x="413" y="560.5" width="5" height="7.3"/><rect x="419" y="560.5" width="4" height="28.2"/><rect x="424" y="560.5" width="4" height="16.4"/><rect x="429" y="533.5" width="4" height="27.0"/><rect x="434" y="560.5" width="4" height="27.5"/><rect x="439" y="560.5" width="5" height="86.5"/><rect x="445" y="560.5" width="4" height="87.4"/><rect x="450" y="560.5" width="4" height="35.7"/><rect x="455" y="560.5" width="4" height="34.7"/><rect x="460" y="525.8" width="4" height="34.7"/><rect x="465" y="540.1" width="5" height="20.4"/><rect x="471" y="547.1" width="4" height="13.4"/><rect x="476" y="557.4" width="4" height="3.1"/><rect x="481" y="530.2" width="4" height="30.3"/><rect x="486" y="525.0" width="4" height="35.5"/><rect x="491" y="511.7" width="5" height="48.8"/><rect x="497" y="531.9" width="4" height="28.6"/><rect x="502" y="537.6" width="4" height="22.9"/><rect x="507" y="530.5" width="4" height="30.0"/><rect x="512" y="542.5" width="4" height="18.0"/><rect x="517" y="528.1" width="5" height="32.4"/><rect x="523" y="529.0" width="4" height="31.5"/><rect x="528" y="541.3" width="4" height="19.2"/><rect x="533" y="548.5" width="4" height="12.0"/><rect x="538" y="537.6" width="4" height="22.9"/><rect x="543" y="528.9" width="5" height="31.6"/><rect x="549" y="514.9" width="4" height="45.6"/><rect x="554" y="459.2" width="4" height="101.3"/><rect x="559" y="483.4" width="4" height="77.1"/><rect x="564" y="492.2" width="4" height="68.3"/><rect x="569" y="514.9" width="5" height="45.6"/><rect x="575" y="528.2" width="4" height="32.3"/><rect x="580" y="528.0" width="4" height="32.5"/><rect x="585" y="523.0" width="4" height="37.5"/><rect x="590" y="528.9" width="4" height="31.6"/><rect x="595" y="545.5" width="5" height="15.0"/><rect x="601" y="549.9" width="4" height="10.6"/><rect x="606" y="551.6" width="4" height="8.9"/><rect x="611" y="553.0" width="4" height="7.5"/><rect x="616" y="525.5" width="4" height="35.0"/><rect x="621" y="549.9" width="5" height="10.6"/><rect x="627" y="554.8" width="4" height="5.7"/><rect x="632" y="530.6" width="4" height="29.9"/><rect x="637" y="497.6" width="4" height="62.9"/><rect x="642" y="508.3" width="4" height="52.2"/><rect x="647" y="504.0" width="5" height="56.5"/><rect x="653" y="514.1" width="4" height="46.4"/><rect x="658" y="514.7" width="4" height="45.8"/><rect x="663" y="523.6" width="4" height="36.9"/><rect x="668" y="558.2" width="5" height="2.3"/><rect x="674" y="560.5" width="4" height="26.1"/><rect x="679" y="560.5" width="4" height="23.9"/><rect x="684" y="560.5" width="4" height="23.9"/><rect x="689" y="560.5" width="4" height="40.7"/><rect x="694" y="560.5" width="5" height="30.9"/><rect x="700" y="560.5" width="4" height="32.8"/><rect x="705" y="560.5" width="4" height="11.6"/><rect x="710" y="560.5" width="4" height="1.2"/><rect x="715" y="559.9" width="4" height="0.6"/><rect x="720" y="547.2" width="5" height="13.3"/><rect x="726" y="559.9" width="4" height="0.6"/><rect x="731" y="560.5" width="4" height="1.5"/><rect x="736" y="527.6" width="4" height="32.9"/><rect x="741" y="511.9" width="4" height="48.6"/><rect x="746" y="519.7" width="5" height="40.8"/><rect x="752" y="516.9" width="4" height="43.6"/><rect x="757" y="522.3" width="4" height="38.2"/><rect x="762" y="527.6" width="4" height="32.9"/><rect x="767" y="552.2" width="4" height="8.3"/><rect x="772" y="544.8" width="5" height="15.7"/><rect x="778" y="560.5" width="4" height="12.4"/><rect x="783" y="560.5" width="4" height="13.4"/><rect x="788" y="560.5" width="4" height="26.6"/><rect x="793" y="560.5" width="4" height="8.1"/><rect x="798" y="552.9" width="5" height="7.6"/><rect x="804" y="537.2" width="4" height="23.3"/><rect x="809" y="525.0" width="4" height="35.5"/><rect x="814" y="516.0" width="4" height="44.5"/><rect x="819" y="540.2" width="4" height="20.3"/><rect x="824" y="546.8" width="5" height="13.7"/><rect x="830" y="540.6" width="4" height="19.9"/><rect x="835" y="547.2" width="4" height="13.3"/><rect x="840" y="523.6" width="4" height="36.9"/><rect x="845" y="519.3" width="4" height="41.2"/><rect x="850" y="474.5" width="5" height="86.0"/><rect x="856" y="480.0" width="4" height="80.5"/><rect x="861" y="507.0" width="4" height="53.5"/><rect x="866" y="518.9" width="4" height="41.6"/><rect x="871" y="516.0" width="4" height="44.5"/><rect x="876" y="527.1" width="5" height="33.4"/><rect x="882" y="538.5" width="4" height="22.0"/><rect x="887" y="560.5" width="4" height="3.4"/><rect x="892" y="560.5" width="4" height="9.2"/><rect x="897" y="560.5" width="4" height="16.8"/><rect x="902" y="560.5" width="5" height="23.0"/><rect x="908" y="560.5" width="4" height="20.5"/><rect x="913" y="560.5" width="4" height="28.2"/><rect x="918" y="560.5" width="4" height="26.7"/><rect x="923" y="559.4" width="5" height="1.1"/><rect x="929" y="560.5" width="4" height="1.1"/><rect x="934" y="560.5" width="4" height="2.8"/><rect x="939" y="560.5" width="6" height="16.8"/></g><path d="M56.3,516.0 L61.5,509.5 L67.5,514.6 L72.5,520.4 L77.5,556.8 L82.5,564.6 L87.5,562.5 L93.5,567.4 L98.5,549.5 L103.5,533.4 L108.5,538.6 L113.5,543.0 L119.5,546.4 L124.5,544.9 L129.5,570.6 L134.5,580.1 L140.5,583.0 L145.5,595.6 L150.5,584.5 L155.5,571.4 L160.5,551.8 L166.5,551.0 L171.5,587.4 L176.5,638.8 L181.5,628.9 L186.5,619.3 L192.5,614.9 L197.5,605.3 L202.5,580.1 L207.5,580.8 L212.5,582.9 L218.5,580.3 L223.5,595.7 L228.5,615.3 L233.5,609.4 L238.5,618.3 L244.5,600.9 L249.5,597.4 L254.5,582.6 L259.5,573.8 L264.5,556.0 L270.5,575.7 L275.5,565.4 L280.5,568.6 L285.5,589.4 L290.5,588.3 L296.5,593.1 L301.5,621.9 L306.5,639.3 L311.5,638.5 L316.5,612.1 L322.5,591.5 L327.5,573.6 L332.5,567.7 L337.5,583.8 L342.5,579.5 L348.5,575.1 L353.5,562.2 L358.5,576.9 L363.5,595.2 L368.5,610.3 L374.5,585.6 L379.5,585.6 L384.5,587.5 L389.5,580.4 L395.5,553.2 L400.5,565.6 L405.5,555.9 L410.5,567.7 L415.5,567.8 L421.5,588.7 L426.5,576.9 L431.5,533.5 L436.5,588.0 L441.5,647.0 L447.5,647.9 L452.5,596.2 L457.5,595.2 L462.5,525.8 L467.5,540.1 L473.5,547.1 L478.5,557.4 L483.5,530.2 L488.5,525.0 L493.5,511.7 L499.5,531.9 L504.5,537.6 L509.5,530.5 L514.5,542.5 L519.5,528.1 L525.5,529.0 L530.5,541.3 L535.5,548.5 L540.5,537.6 L545.5,528.9 L551.5,514.9 L556.5,459.2 L561.5,483.4 L566.5,492.2 L571.5,514.9 L577.5,528.2 L582.5,528.0 L587.5,523.0 L592.5,528.9 L597.5,545.5 L603.5,549.9 L608.5,551.6 L613.5,553.0 L618.5,525.5 L623.5,549.9 L629.5,554.8 L634.5,530.6 L639.5,497.6 L644.5,508.3 L649.5,504.0 L655.5,514.1 L660.5,514.7 L665.5,523.6 L670.5,558.2 L676.5,586.6 L681.5,584.4 L686.5,584.4 L691.5,601.2 L696.5,591.4 L702.5,593.3 L707.5,572.1 L712.5,561.7 L717.5,559.9 L722.5,547.2 L728.5,559.9 L733.5,562.0 L738.5,527.6 L743.5,511.9 L748.5,519.7 L754.5,516.9 L759.5,522.3 L764.5,527.6 L769.5,552.2 L774.5,544.8 L780.5,572.9 L785.5,573.9 L790.5,587.1 L795.5,568.6 L800.5,552.9 L806.5,537.2 L811.5,525.0 L816.5,516.0 L821.5,540.2 L826.5,546.8 L832.5,540.6 L837.5,547.2 L842.5,523.6 L847.5,519.3 L852.5,474.5 L858.5,480.0 L863.5,507.0 L868.5,518.9 L873.5,516.0 L878.5,527.1 L884.5,538.5 L889.5,563.9 L894.5,569.7 L899.5,577.3 L904.5,583.5 L910.5,581.0 L915.5,588.7 L920.5,587.2 L925.5,559.4 L931.5,561.6 L936.5,563.3 L941.5,577.3" fill="none" stroke="rgba(255,80,80,0.8)" stroke-width="3.6" stroke-linejoin="miter" stroke-miterlimit="40"/>
<g clip-path="url(#beyond)"><path d="M56.3,560.5 L56.3,543.0 L61.5,542.2 L67.5,540.3 L72.5,540.2 L77.5,565.5 L82.5,569.6 L87.5,564.1 L93.5,560.4 L98.5,543.7 L103.5,530.9 L108.5,532.8 L113.5,533.5 L119.5,533.2 L124.5,531.1 L129.5,546.6 L134.5,554.6 L140.5,558.2 L145.5,571.3 L150.5,561.2 L155.5,551.0 L160.5,543.0 L166.5,541.7 L171.5,558.2 L176.5,632.4 L181.5,638.5 L186.5,641.1 L192.5,649.0 L197.5,641.1 L202.5,604.4 L207.5,603.8 L212.5,605.6 L218.5,599.3 L223.5,612.3 L228.5,625.3 L233.5,616.4 L238.5,622.0 L244.5,609.7 L249.5,608.8 L254.5,597.4 L259.5,589.6 L264.5,579.4 L270.5,594.1 L275.5,586.0 L280.5,587.8 L285.5,594.9 L290.5,592.6 L296.5,593.9 L301.5,604.4 L306.5,618.4 L311.5,621.1 L316.5,615.1 L322.5,609.0 L327.5,594.6 L332.5,587.9 L337.5,601.6 L342.5,597.9 L348.5,594.4 L353.5,585.7 L358.5,592.6 L363.5,597.9 L368.5,601.2 L374.5,592.6 L379.5,591.8 L384.5,590.9 L389.5,586.5 L395.5,575.7 L400.5,580.5 L405.5,577.5 L410.5,580.8 L415.5,581.0 L421.5,586.7 L426.5,583.9 L431.5,574.8 L436.5,591.0 L441.5,618.0 L447.5,634.8 L452.5,610.0 L457.5,608.0 L462.5,540.6 L467.5,548.3 L473.5,564.6 L478.5,580.8 L483.5,540.1 L488.5,525.0 L493.5,503.4 L499.5,528.4 L504.5,534.1 L509.5,510.5 L514.5,526.7 L519.5,512.4 L525.5,513.3 L530.5,525.0 L535.5,533.7 L540.5,527.1 L545.5,523.6 L551.5,514.9 L556.5,484.0 L561.5,486.2 L566.5,480.1 L571.5,491.3 L577.5,506.2 L582.5,505.3 L587.5,499.8 L592.5,507.9 L597.5,527.1 L603.5,530.6 L608.5,532.4 L613.5,534.2 L618.5,527.0 L623.5,534.1 L629.5,535.3 L634.5,528.9 L639.5,520.1 L644.5,519.3 L649.5,516.2 L655.5,516.3 L660.5,513.9 L665.5,518.4 L670.5,530.2 L676.5,556.4 L681.5,557.2 L686.5,558.2 L691.5,581.4 L696.5,581.6 L702.5,586.0 L707.5,559.9 L712.5,552.0 L717.5,551.8 L722.5,539.4 L728.5,559.9 L733.5,567.9 L738.5,542.4 L743.5,531.1 L748.5,532.3 L754.5,527.6 L759.5,527.6 L764.5,529.3 L769.5,546.1 L774.5,542.2 L780.5,559.9 L785.5,563.4 L790.5,571.4 L795.5,558.2 L800.5,545.9 L806.5,533.7 L811.5,524.1 L816.5,517.1 L821.5,528.9 L826.5,535.1 L832.5,532.3 L837.5,538.0 L842.5,521.9 L847.5,516.7 L852.5,469.5 L858.5,454.4 L863.5,473.0 L868.5,485.3 L873.5,480.8 L878.5,495.7 L884.5,511.4 L889.5,543.5 L894.5,548.7 L899.5,554.0 L904.5,560.4 L910.5,554.2 L915.5,562.1 L920.5,562.1 L925.5,536.3 L931.5,543.5 L936.5,546.4 L941.5,561.6 L941.5,560.5 Z" fill="rgba(0,128,0,0.545)"/><path d="M56.3,543.0 L61.5,542.2 L67.5,540.3 L72.5,540.2 L77.5,565.5 L82.5,569.6 L87.5,564.1 L93.5,560.4 L98.5,543.7 L103.5,530.9 L108.5,532.8 L113.5,533.5 L119.5,533.2 L124.5,531.1 L129.5,546.6 L134.5,554.6 L140.5,558.2 L145.5,571.3 L150.5,561.2 L155.5,551.0 L160.5,543.0 L166.5,541.7 L171.5,558.2 L176.5,632.4 L181.5,638.5 L186.5,641.1 L192.5,649.0 L197.5,641.1 L202.5,604.4 L207.5,603.8 L212.5,605.6 L218.5,599.3 L223.5,612.3 L228.5,625.3 L233.5,616.4 L238.5,622.0 L244.5,609.7 L249.5,608.8 L254.5,597.4 L259.5,589.6 L264.5,579.4 L270.5,594.1 L275.5,586.0 L280.5,587.8 L285.5,594.9 L290.5,592.6 L296.5,593.9 L301.5,604.4 L306.5,618.4 L311.5,621.1 L316.5,615.1 L322.5,609.0 L327.5,594.6 L332.5,587.9 L337.5,601.6 L342.5,597.9 L348.5,594.4 L353.5,585.7 L358.5,592.6 L363.5,597.9 L368.5,601.2 L374.5,592.6 L379.5,591.8 L384.5,590.9 L389.5,586.5 L395.5,575.7 L400.5,580.5 L405.5,577.5 L410.5,580.8 L415.5,581.0 L421.5,586.7 L426.5,583.9 L431.5,574.8 L436.5,591.0 L441.5,618.0 L447.5,634.8 L452.5,610.0 L457.5,608.0 L462.5,540.6 L467.5,548.3 L473.5,564.6 L478.5,580.8 L483.5,540.1 L488.5,525.0 L493.5,503.4 L499.5,528.4 L504.5,534.1 L509.5,510.5 L514.5,526.7 L519.5,512.4 L525.5,513.3 L530.5,525.0 L535.5,533.7 L540.5,527.1 L545.5,523.6 L551.5,514.9 L556.5,484.0 L561.5,486.2 L566.5,480.1 L571.5,491.3 L577.5,506.2 L582.5,505.3 L587.5,499.8 L592.5,507.9 L597.5,527.1 L603.5,530.6 L608.5,532.4 L613.5,534.2 L618.5,527.0 L623.5,534.1 L629.5,535.3 L634.5,528.9 L639.5,520.1 L644.5,519.3 L649.5,516.2 L655.5,516.3 L660.5,513.9 L665.5,518.4 L670.5,530.2 L676.5,556.4 L681.5,557.2 L686.5,558.2 L691.5,581.4 L696.5,581.6 L702.5,586.0 L707.5,559.9 L712.5,552.0 L717.5,551.8 L722.5,539.4 L728.5,559.9 L733.5,567.9 L738.5,542.4 L743.5,531.1 L748.5,532.3 L754.5,527.6 L759.5,527.6 L764.5,529.3 L769.5,546.1 L774.5,542.2 L780.5,559.9 L785.5,563.4 L790.5,571.4 L795.5,558.2 L800.5,545.9 L806.5,533.7 L811.5,524.1 L816.5,517.1 L821.5,528.9 L826.5,535.1 L832.5,532.3 L837.5,538.0 L842.5,521.9 L847.5,516.7 L852.5,469.5 L858.5,454.4 L863.5,473.0 L868.5,485.3 L873.5,480.8 L878.5,495.7 L884.5,511.4 L889.5,543.5 L894.5,548.7 L899.5,554.0 L904.5,560.4 L910.5,554.2 L915.5,562.1 L920.5,562.1 L925.5,536.3 L931.5,543.5 L936.5,546.4 L941.5,561.6" fill="none" stroke="rgba(0,210,0,0.74)" stroke-width="3.6" stroke-linejoin="miter" stroke-miterlimit="40"/><g fill="rgba(255,0,0,0.30)" shape-rendering="crispEdges"><rect x="54" y="516.0" width="4" height="44.5"/><rect x="59" y="509.5" width="5" height="51.0"/><rect x="65" y="514.6" width="4" height="45.9"/><rect x="70" y="520.4" width="4" height="40.1"/><rect x="75" y="556.8" width="4" height="3.7"/><rect x="80" y="560.5" width="4" height="4.1"/><rect x="85" y="560.5" width="5" height="2.0"/><rect x="91" y="560.5" width="4" height="6.9"/><rect x="96" y="549.5" width="4" height="11.0"/><rect x="101" y="533.4" width="4" height="27.1"/><rect x="106" y="538.6" width="4" height="21.9"/><rect x="111" y="543.0" width="5" height="17.5"/><rect x="117" y="546.4" width="4" height="14.1"/><rect x="122" y="544.9" width="4" height="15.6"/><rect x="127" y="560.5" width="4" height="10.1"/><rect x="132" y="560.5" width="5" height="19.6"/><rect x="138" y="560.5" width="4" height="22.5"/><rect x="143" y="560.5" width="4" height="35.1"/><rect x="148" y="560.5" width="4" height="24.0"/><rect x="153" y="560.5" width="4" height="10.9"/><rect x="158" y="551.8" width="5" height="8.7"/><rect x="164" y="551.0" width="4" height="9.5"/><rect x="169" y="560.5" width="4" height="26.9"/><rect x="174" y="560.5" width="4" height="78.3"/><rect x="179" y="560.5" width="4" height="68.4"/><rect x="184" y="560.5" width="5" height="58.8"/><rect x="190" y="560.5" width="4" height="54.4"/><rect x="195" y="560.5" width="4" height="44.8"/><rect x="200" y="560.5" width="4" height="19.6"/><rect x="205" y="560.5" width="4" height="20.3"/><rect x="210" y="560.5" width="5" height="22.4"/><rect x="216" y="560.5" width="4" height="19.8"/><rect x="221" y="560.5" width="4" height="35.2"/><rect x="226" y="560.5" width="4" height="54.8"/><rect x="231" y="560.5" width="4" height="48.9"/><rect x="236" y="560.5" width="5" height="57.8"/><rect x="242" y="560.5" width="4" height="40.4"/><rect x="247" y="560.5" width="4" height="36.9"/><rect x="252" y="560.5" width="4" height="22.1"/><rect x="257" y="560.5" width="4" height="13.3"/><rect x="262" y="556.0" width="5" height="4.5"/><rect x="268" y="560.5" width="4" height="15.2"/><rect x="273" y="560.5" width="4" height="4.9"/><rect x="278" y="560.5" width="4" height="8.1"/><rect x="283" y="560.5" width="4" height="28.9"/><rect x="288" y="560.5" width="5" height="27.8"/><rect x="294" y="560.5" width="4" height="32.6"/><rect x="299" y="560.5" width="4" height="61.4"/><rect x="304" y="560.5" width="4" height="78.8"/><rect x="309" y="560.5" width="4" height="78.0"/><rect x="314" y="560.5" width="5" height="51.6"/><rect x="320" y="560.5" width="4" height="31.0"/><rect x="325" y="560.5" width="4" height="13.1"/><rect x="330" y="560.5" width="4" height="7.2"/><rect x="335" y="560.5" width="4" height="23.3"/><rect x="340" y="560.5" width="5" height="19.0"/><rect x="346" y="560.5" width="4" height="14.6"/><rect x="351" y="560.5" width="4" height="1.7"/><rect x="356" y="560.5" width="4" height="16.4"/><rect x="361" y="560.5" width="4" height="34.7"/><rect x="366" y="560.5" width="5" height="49.8"/><rect x="372" y="560.5" width="4" height="25.1"/><rect x="377" y="560.5" width="4" height="25.1"/><rect x="382" y="560.5" width="4" height="27.0"/><rect x="387" y="560.5" width="5" height="19.9"/><rect x="393" y="553.2" width="4" height="7.3"/><rect x="398" y="560.5" width="4" height="5.1"/><rect x="403" y="555.9" width="4" height="4.6"/><rect x="408" y="560.5" width="4" height="7.2"/><rect x="413" y="560.5" width="5" height="7.3"/><rect x="419" y="560.5" width="4" height="28.2"/><rect x="424" y="560.5" width="4" height="16.4"/><rect x="429" y="533.5" width="4" height="27.0"/><rect x="434" y="560.5" width="4" height="27.5"/><rect x="439" y="560.5" width="5" height="86.5"/><rect x="445" y="560.5" width="4" height="87.4"/><rect x="450" y="560.5" width="4" height="35.7"/><rect x="455" y="560.5" width="4" height="34.7"/><rect x="460" y="525.8" width="4" height="34.7"/><rect x="465" y="540.1" width="5" height="20.4"/><rect x="471" y="547.1" width="4" height="13.4"/><rect x="476" y="557.4" width="4" height="3.1"/><rect x="481" y="530.2" width="4" height="30.3"/><rect x="486" y="525.0" width="4" height="35.5"/><rect x="491" y="511.7" width="5" height="48.8"/><rect x="497" y="531.9" width="4" height="28.6"/><rect x="502" y="537.6" width="4" height="22.9"/><rect x="507" y="530.5" width="4" height="30.0"/><rect x="512" y="542.5" width="4" height="18.0"/><rect x="517" y="528.1" width="5" height="32.4"/><rect x="523" y="529.0" width="4" height="31.5"/><rect x="528" y="541.3" width="4" height="19.2"/><rect x="533" y="548.5" width="4" height="12.0"/><rect x="538" y="537.6" width="4" height="22.9"/><rect x="543" y="528.9" width="5" height="31.6"/><rect x="549" y="514.9" width="4" height="45.6"/><rect x="554" y="459.2" width="4" height="101.3"/><rect x="559" y="483.4" width="4" height="77.1"/><rect x="564" y="492.2" width="4" height="68.3"/><rect x="569" y="514.9" width="5" height="45.6"/><rect x="575" y="528.2" width="4" height="32.3"/><rect x="580" y="528.0" width="4" height="32.5"/><rect x="585" y="523.0" width="4" height="37.5"/><rect x="590" y="528.9" width="4" height="31.6"/><rect x="595" y="545.5" width="5" height="15.0"/><rect x="601" y="549.9" width="4" height="10.6"/><rect x="606" y="551.6" width="4" height="8.9"/><rect x="611" y="553.0" width="4" height="7.5"/><rect x="616" y="525.5" width="4" height="35.0"/><rect x="621" y="549.9" width="5" height="10.6"/><rect x="627" y="554.8" width="4" height="5.7"/><rect x="632" y="530.6" width="4" height="29.9"/><rect x="637" y="497.6" width="4" height="62.9"/><rect x="642" y="508.3" width="4" height="52.2"/><rect x="647" y="504.0" width="5" height="56.5"/><rect x="653" y="514.1" width="4" height="46.4"/><rect x="658" y="514.7" width="4" height="45.8"/><rect x="663" y="523.6" width="4" height="36.9"/><rect x="668" y="558.2" width="5" height="2.3"/><rect x="674" y="560.5" width="4" height="26.1"/><rect x="679" y="560.5" width="4" height="23.9"/><rect x="684" y="560.5" width="4" height="23.9"/><rect x="689" y="560.5" width="4" height="40.7"/><rect x="694" y="560.5" width="5" height="30.9"/><rect x="700" y="560.5" width="4" height="32.8"/><rect x="705" y="560.5" width="4" height="11.6"/><rect x="710" y="560.5" width="4" height="1.2"/><rect x="715" y="559.9" width="4" height="0.6"/><rect x="720" y="547.2" width="5" height="13.3"/><rect x="726" y="559.9" width="4" height="0.6"/><rect x="731" y="560.5" width="4" height="1.5"/><rect x="736" y="527.6" width="4" height="32.9"/><rect x="741" y="511.9" width="4" height="48.6"/><rect x="746" y="519.7" width="5" height="40.8"/><rect x="752" y="516.9" width="4" height="43.6"/><rect x="757" y="522.3" width="4" height="38.2"/><rect x="762" y="527.6" width="4" height="32.9"/><rect x="767" y="552.2" width="4" height="8.3"/><rect x="772" y="544.8" width="5" height="15.7"/><rect x="778" y="560.5" width="4" height="12.4"/><rect x="783" y="560.5" width="4" height="13.4"/><rect x="788" y="560.5" width="4" height="26.6"/><rect x="793" y="560.5" width="4" height="8.1"/><rect x="798" y="552.9" width="5" height="7.6"/><rect x="804" y="537.2" width="4" height="23.3"/><rect x="809" y="525.0" width="4" height="35.5"/><rect x="814" y="516.0" width="4" height="44.5"/><rect x="819" y="540.2" width="4" height="20.3"/><rect x="824" y="546.8" width="5" height="13.7"/><rect x="830" y="540.6" width="4" height="19.9"/><rect x="835" y="547.2" width="4" height="13.3"/><rect x="840" y="523.6" width="4" height="36.9"/><rect x="845" y="519.3" width="4" height="41.2"/><rect x="850" y="474.5" width="5" height="86.0"/><rect x="856" y="480.0" width="4" height="80.5"/><rect x="861" y="507.0" width="4" height="53.5"/><rect x="866" y="518.9" width="4" height="41.6"/><rect x="871" y="516.0" width="4" height="44.5"/><rect x="876" y="527.1" width="5" height="33.4"/><rect x="882" y="538.5" width="4" height="22.0"/><rect x="887" y="560.5" width="4" height="3.4"/><rect x="892" y="560.5" width="4" height="9.2"/><rect x="897" y="560.5" width="4" height="16.8"/><rect x="902" y="560.5" width="5" height="23.0"/><rect x="908" y="560.5" width="4" height="20.5"/><rect x="913" y="560.5" width="4" height="28.2"/><rect x="918" y="560.5" width="4" height="26.7"/><rect x="923" y="559.4" width="5" height="1.1"/><rect x="929" y="560.5" width="4" height="1.1"/><rect x="934" y="560.5" width="4" height="2.8"/><rect x="939" y="560.5" width="6" height="16.8"/></g><path d="M56.3,516.0 L61.5,509.5 L67.5,514.6 L72.5,520.4 L77.5,556.8 L82.5,564.6 L87.5,562.5 L93.5,567.4 L98.5,549.5 L103.5,533.4 L108.5,538.6 L113.5,543.0 L119.5,546.4 L124.5,544.9 L129.5,570.6 L134.5,580.1 L140.5,583.0 L145.5,595.6 L150.5,584.5 L155.5,571.4 L160.5,551.8 L166.5,551.0 L171.5,587.4 L176.5,638.8 L181.5,628.9 L186.5,619.3 L192.5,614.9 L197.5,605.3 L202.5,580.1 L207.5,580.8 L212.5,582.9 L218.5,580.3 L223.5,595.7 L228.5,615.3 L233.5,609.4 L238.5,618.3 L244.5,600.9 L249.5,597.4 L254.5,582.6 L259.5,573.8 L264.5,556.0 L270.5,575.7 L275.5,565.4 L280.5,568.6 L285.5,589.4 L290.5,588.3 L296.5,593.1 L301.5,621.9 L306.5,639.3 L311.5,638.5 L316.5,612.1 L322.5,591.5 L327.5,573.6 L332.5,567.7 L337.5,583.8 L342.5,579.5 L348.5,575.1 L353.5,562.2 L358.5,576.9 L363.5,595.2 L368.5,610.3 L374.5,585.6 L379.5,585.6 L384.5,587.5 L389.5,580.4 L395.5,553.2 L400.5,565.6 L405.5,555.9 L410.5,567.7 L415.5,567.8 L421.5,588.7 L426.5,576.9 L431.5,533.5 L436.5,588.0 L441.5,647.0 L447.5,647.9 L452.5,596.2 L457.5,595.2 L462.5,525.8 L467.5,540.1 L473.5,547.1 L478.5,557.4 L483.5,530.2 L488.5,525.0 L493.5,511.7 L499.5,531.9 L504.5,537.6 L509.5,530.5 L514.5,542.5 L519.5,528.1 L525.5,529.0 L530.5,541.3 L535.5,548.5 L540.5,537.6 L545.5,528.9 L551.5,514.9 L556.5,459.2 L561.5,483.4 L566.5,492.2 L571.5,514.9 L577.5,528.2 L582.5,528.0 L587.5,523.0 L592.5,528.9 L597.5,545.5 L603.5,549.9 L608.5,551.6 L613.5,553.0 L618.5,525.5 L623.5,549.9 L629.5,554.8 L634.5,530.6 L639.5,497.6 L644.5,508.3 L649.5,504.0 L655.5,514.1 L660.5,514.7 L665.5,523.6 L670.5,558.2 L676.5,586.6 L681.5,584.4 L686.5,584.4 L691.5,601.2 L696.5,591.4 L702.5,593.3 L707.5,572.1 L712.5,561.7 L717.5,559.9 L722.5,547.2 L728.5,559.9 L733.5,562.0 L738.5,527.6 L743.5,511.9 L748.5,519.7 L754.5,516.9 L759.5,522.3 L764.5,527.6 L769.5,552.2 L774.5,544.8 L780.5,572.9 L785.5,573.9 L790.5,587.1 L795.5,568.6 L800.5,552.9 L806.5,537.2 L811.5,525.0 L816.5,516.0 L821.5,540.2 L826.5,546.8 L832.5,540.6 L837.5,547.2 L842.5,523.6 L847.5,519.3 L852.5,474.5 L858.5,480.0 L863.5,507.0 L868.5,518.9 L873.5,516.0 L878.5,527.1 L884.5,538.5 L889.5,563.9 L894.5,569.7 L899.5,577.3 L904.5,583.5 L910.5,581.0 L915.5,588.7 L920.5,587.2 L925.5,559.4 L931.5,561.6 L936.5,563.3 L941.5,577.3" fill="none" stroke="rgba(255,0,0,0.5)" stroke-width="3.6" stroke-linejoin="miter" stroke-miterlimit="40"/></g>
<rect x="59" y="559.5" width="913" height="2" fill="#fff"/>
<line x1="58" y1="526.5" x2="972" y2="526.5" stroke="#fff" stroke-width="3" stroke-dasharray="18 15" shape-rendering="crispEdges"/>
<line x1="58" y1="594.5" x2="972" y2="594.5" stroke="#fff" stroke-width="3" stroke-dasharray="18 15" shape-rendering="crispEdges"/>
<rect x="59" y="492.0" width="884.4" height="3" fill="rgba(255,0,0,0.7)" shape-rendering="crispEdges"/>
<rect x="59" y="626.0" width="884.4" height="3" fill="rgba(0,255,0,0.7)" shape-rendering="crispEdges"/>
</g>
<g clip-path="url(#icl)" shape-rendering="auto" font-family="'Liberation Sans',sans-serif" font-size="10" fill="#444">
<circle cx="967.2" cy="403.6" r="11.1" fill="#f8f9fb" stroke="#f5a033" stroke-width="1.5"/><circle cx="967.2" cy="403.6" r="3.6" fill="#e8455f"/>
<circle cx="958.8" cy="403.6" r="11.1" fill="#f8f9fb" stroke="#f5a033" stroke-width="1.5"/><circle cx="958.8" cy="403.6" r="3.6" fill="#e8455f"/>
<circle cx="950.5" cy="403.6" r="11.1" fill="#f8f9fb" stroke="#f5a033" stroke-width="1.5"/><circle cx="950.5" cy="403.6" r="3.6" fill="#e8455f"/>
<circle cx="941.9" cy="403.6" r="11.1" fill="#f0f2f5" stroke="#f5a033" stroke-width="1.5"/><circle cx="941.9" cy="403.6" r="3.6" fill="#e8455f"/>
<rect x="950.4" y="404.2" width="4" height="2.2" fill="#e8455f" opacity="0.85"/><rect x="959.8" y="403.8" width="2" height="1.8" fill="#e8455f" opacity="0.7"/><rect x="965.9" y="402" width="1.4" height="3.5" fill="#e8455f" opacity="0.35"/>
<circle cx="969" cy="428.0" r="11.1" fill="#ffffff" stroke="#f5a033" stroke-width="1.5"/>
<circle cx="962.7" cy="428.0" r="11.1" fill="#ffffff" stroke="#f5476b" stroke-width="1.5"/>
<circle cx="952.3" cy="428.0" r="11.1" fill="#ffffff" stroke="#f5476b" stroke-width="1.5"/>
<g clip-path="url(#usc)"><circle cx="941.9" cy="428.0" r="11.1" fill="#ffffff" stroke="#f5476b" stroke-width="1.5"/><rect x="934.5" y="420.2" width="9.4" height="8.9" fill="#4a80d8"/><rect x="937.3" y="420.2" width="0.7" height="8.9" fill="#b9cef0"/><rect x="940.3" y="420.2" width="0.7" height="8.9" fill="#b9cef0"/><rect x="934.5" y="422.8" width="9.4" height="0.7" fill="#b9cef0"/><rect x="934.5" y="425.8" width="9.4" height="0.7" fill="#b9cef0"/><rect x="944.1" y="426.2" width="8.2" height="2.9" fill="#ea4d62"/><rect x="935.6999999999999" y="431.1" width="14.6" height="3.9" fill="#ea4d62"/></g>
<circle cx="941.9" cy="428.0" r="11.1" fill="none" stroke="#f5476b" stroke-width="1.5"/>
<rect x="944.5" y="426.3" width="27" height="2.8" fill="#ea4d62" opacity="0.85"/><rect x="950" y="431.2" width="21.5" height="4" fill="#ea4d62" opacity="0.85"/>
<path d="M957.9,418.4 A11.1,11.1 0 0 1 957.9,437.6" fill="none" stroke="#f5476b" stroke-width="1.4"/>
<path d="M951,438.6 Q961,441.5 971.5,437.5" fill="none" stroke="#f5a033" stroke-width="2.2" stroke-dasharray="2.2 1"/>
<rect x="946.3" y="391.3" width="25.2" height="10.8" fill="#fff" opacity="0.92"/>
<text x="948.7" y="399.7">3</text><text x="958.5" y="399.7">4</text><text x="969.6" y="399.7">2</text>
<rect x="945.2" y="416.2" width="26.3" height="8.2" fill="#fff" opacity="0.92"/>
<text x="946" y="424.6">12</text><text x="965" y="424.6">2</text>
</g>
<g fill="#555555"><rect x="6" y="5" width="1018" height="1"/><rect x="6" y="681" width="1018" height="1"/><rect x="6" y="5" width="1" height="677"/><rect x="1023" y="5" width="1" height="677"/><rect x="57" y="5" width="1" height="658"/><rect x="972" y="5" width="1" height="658"/><rect x="6" y="442" width="1018" height="1"/><rect x="57" y="662" width="916" height="1"/><rect x="54" y="20" width="3" height="1"/><rect x="973" y="20" width="3" height="1"/><rect x="54" y="59" width="3" height="1"/><rect x="973" y="59" width="3" height="1"/><rect x="54" y="99" width="3" height="1"/><rect x="973" y="99" width="3" height="1"/><rect x="54" y="139" width="3" height="1"/><rect x="973" y="139" width="3" height="1"/><rect x="54" y="178" width="3" height="1"/><rect x="973" y="178" width="3" height="1"/><rect x="54" y="218" width="3" height="1"/><rect x="973" y="218" width="3" height="1"/><rect x="54" y="258" width="3" height="1"/><rect x="973" y="258" width="3" height="1"/><rect x="54" y="297" width="3" height="1"/><rect x="973" y="297" width="3" height="1"/><rect x="54" y="337" width="3" height="1"/><rect x="973" y="337" width="3" height="1"/><rect x="54" y="377" width="3" height="1"/><rect x="973" y="377" width="3" height="1"/><rect x="54" y="416" width="3" height="1"/><rect x="973" y="416" width="3" height="1"/><rect x="54" y="459" width="3" height="1"/><rect x="973" y="459" width="3" height="1"/><rect x="54" y="493" width="3" height="1"/><rect x="973" y="493" width="3" height="1"/><rect x="54" y="526" width="3" height="1"/><rect x="973" y="526" width="3" height="1"/><rect x="54" y="560" width="3" height="1"/><rect x="973" y="560" width="3" height="1"/><rect x="54" y="594" width="3" height="1"/><rect x="973" y="594" width="3" height="1"/><rect x="54" y="627" width="3" height="1"/><rect x="973" y="627" width="3" height="1"/><rect x="141" y="663" width="1" height="3"/><rect x="260" y="663" width="1" height="3"/><rect x="364" y="663" width="1" height="3"/><rect x="479" y="663" width="1" height="3"/><rect x="588" y="663" width="1" height="3"/><rect x="708" y="663" width="1" height="3"/><rect x="817" y="663" width="1" height="3"/><rect x="932" y="663" width="1" height="3"/></g>
<g shape-rendering="auto" font-family="'Liberation Sans',sans-serif" font-size="11" fill="#555555">
<text x="50.5" y="25.0" text-anchor="end">114.000</text><text x="979.5" y="25.0">114.000</text>
<text x="50.5" y="64.0" text-anchor="end">113.000</text><text x="979.5" y="64.0">113.000</text>
<text x="50.5" y="104.0" text-anchor="end">112.000</text><text x="979.5" y="104.0">112.000</text>
<text x="50.5" y="144.0" text-anchor="end">111.000</text><text x="979.5" y="144.0">111.000</text>
<text x="50.5" y="183.0" text-anchor="end">110.000</text><text x="979.5" y="183.0">110.000</text>
<text x="50.5" y="223.0" text-anchor="end">109.000</text><text x="979.5" y="223.0">109.000</text>
<text x="50.5" y="263.0" text-anchor="end">108.000</text><text x="979.5" y="263.0">108.000</text>
<text x="50.5" y="302.0" text-anchor="end">107.000</text><text x="979.5" y="302.0">107.000</text>
<text x="50.5" y="342.0" text-anchor="end">106.000</text><text x="979.5" y="342.0">106.000</text>
<text x="50.5" y="382.0" text-anchor="end">105.000</text><text x="979.5" y="382.0">105.000</text>
<text x="50.5" y="421.0" text-anchor="end">104.000</text><text x="979.5" y="421.0">104.000</text>
<text x="50.5" y="463.7" text-anchor="end">300</text><text x="978.7" y="463.7">300</text>
<text x="50.5" y="497.7" text-anchor="end">200</text><text x="978.7" y="497.7">200</text>
<text x="50.5" y="530.7" text-anchor="end">100</text><text x="978.7" y="530.7">100</text>
<text x="50.5" y="564.7" text-anchor="end">0</text><text x="978.7" y="564.7">0</text>
<text x="50.5" y="598.7" text-anchor="end">-100</text><text x="978.7" y="598.7">-100</text>
<text x="50.5" y="631.7" text-anchor="end">-200</text><text x="978.7" y="631.7">-200</text>
<text x="141.5" y="676.5" text-anchor="middle" font-weight="bold">2018</text>
<text x="260.5" y="676.7" text-anchor="middle" font-family="'Liberation Sans','Noto Sans CJK JP',sans-serif">2月</text>
<text x="364.5" y="676.7" text-anchor="middle" font-family="'Liberation Sans','Noto Sans CJK JP',sans-serif">3月</text>
<text x="479.5" y="676.7" text-anchor="middle" font-family="'Liberation Sans','Noto Sans CJK JP',sans-serif">4月</text>
<text x="588.5" y="676.7" text-anchor="middle" font-family="'Liberation Sans','Noto Sans CJK JP',sans-serif">5月</text>
<text x="708.5" y="676.7" text-anchor="middle" font-family="'Liberation Sans','Noto Sans CJK JP',sans-serif">6月</text>
<text x="817.5" y="676.7" text-anchor="middle" font-family="'Liberation Sans','Noto Sans CJK JP',sans-serif">7月</text>
<text x="932.5" y="676.7" text-anchor="middle" font-family="'Liberation Sans','Noto Sans CJK JP',sans-serif">8月</text>
</g>
<rect x="8" y="123.6" width="50" height="15.1" fill="#eb4d5c" shape-rendering="auto"/><rect x="972" y="123.6" width="50" height="15.1" fill="#eb4d5c" shape-rendering="auto"/><rect x="55" y="130" width="3" height="1" fill="#fff"/><rect x="972" y="130" width="3" height="1" fill="#fff"/>
<g shape-rendering="auto" font-family="'Liberation Sans',sans-serif" font-size="11" font-weight="bold" fill="#fff"><text x="50.5" y="134.9" text-anchor="end">111.225</text><text x="979.5" y="134.9">111.225</text></g>
<g shape-rendering="auto" font-family="'DejaVu Sans','Noto Sans CJK JP',sans-serif" font-size="13.6" fill="#555555">
<text x="67" y="27.8" textLength="245" lengthAdjust="spacingAndGlyphs">U.S. Dollar/Japanese Yen, 1日, FXCM</text>
<text x="67" y="466" textLength="203" lengthAdjust="spacingAndGlyphs">CM_Enhanced CCI V2 (30, 14)</text>
</g>
</svg>
</body></html>
